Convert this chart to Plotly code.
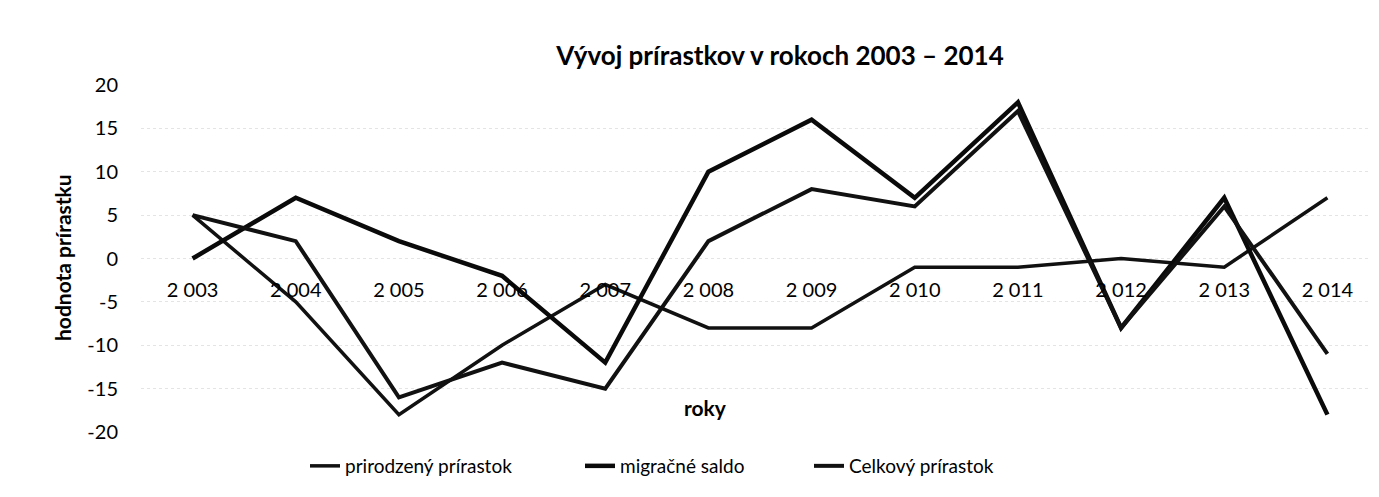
import plotly.graph_objects as go

years = ["2 003", "2 004", "2 005", "2 006", "2 007", "2 008",
         "2 009", "2 010", "2 011", "2 012", "2 013", "2 014"]
prirodzeny = [5, -5, -18, -10, -3, -8, -8, -1, -1, 0, -1, 7]
migracne = [0, 7, 2, -2, -12, 10, 16, 7, 18, -8, 7, -18]
celkovy = [5, 2, -16, -12, -15, 2, 8, 6, 17, -8, 6, -11]
y_ticks = [-20, -15, -10, -5, 0, 5, 10, 15, 20]
y_tick_labels = ["-20", "-15", "-10", "-5", "0", "5", "10", "15", "20"]

FONT = "Lato"
OFF = 8  # page body margin
W, H = 1379 - OFF, 497 - OFF
PX_L, PX_R, PX_T, PX_B = 141, 1379, 85, 432  # plot area in page pixels
L = PX_L - OFF
R = OFF + W - PX_R
T = PX_T - OFF
B = OFF + H - PX_B
PW = PX_R - PX_L
PH = PX_B - PX_T

def px_x(px):
    return (px - PX_L) / PW

def px_y(py):
    return (PX_B - py) / PH

fig = go.Figure()
fig.add_trace(go.Scatter(x=years, y=prirodzeny, mode="lines", name="prirodzený prírastok",
                         line=dict(color="#111111", width=3.5), legend="legend"))
fig.add_trace(go.Scatter(x=years, y=migracne, mode="lines", name="migračné saldo",
                         line=dict(color="#0a0a0a", width=4.5), legend="legend2"))
fig.add_trace(go.Scatter(x=years, y=celkovy, mode="lines", name="Celkový prírastok",
                         line=dict(color="#111111", width=4), legend="legend3"))

leg_font = dict(family=FONT, size=19, color="black")
def leg(px_text_start):
    return dict(orientation="h", x=px_x(px_text_start - 42), y=px_y(466),
                xanchor="left", yanchor="middle", font=leg_font,
                bgcolor="rgba(0,0,0,0)")

fig.update_layout(
    width=W, height=H,
    margin=dict(l=L, r=R, t=T, b=B, autoexpand=False),
    paper_bgcolor="white", plot_bgcolor="white",
    font=dict(family=FONT, color="black", size=19),
    title=dict(text="<b>Vývoj prírastkov v rokoch 2003 – 2014</b>",
               xref="container", yref="container",
               x=(780 - OFF) / W, y=1 - (56 - OFF) / H, xanchor="center", yanchor="middle",
               font=dict(family=FONT, size=26, color="black")),
    showlegend=True,
    legend=leg(347),
    legend2=leg(622),
    legend3=leg(851),
    xaxis=dict(type="category", range=[-0.5, len(years) - 0.5],
               anchor="free", position=0.5, showline=False, showgrid=False, zeroline=False,
               ticks="", ticklabelstandoff=17, automargin=False,
               tickfont=dict(family=FONT, size=20, color="black")),
    yaxis=dict(range=[-20, 20], tickvals=y_ticks, ticktext=y_tick_labels,
               showline=False, zeroline=False,
               showgrid=True, gridcolor="#e4e4e4", griddash="dot", gridwidth=1,
               ticks="", ticklabelstandoff=22, automargin=False,
               tickfont=dict(family=FONT, size=20, color="black")),
    annotations=[
        dict(text="<b>hodnota prírastku</b>", xref="paper", yref="paper",
             x=px_x(62), y=px_y(258), textangle=-90, showarrow=False,
             xanchor="center", yanchor="middle",
             font=dict(family=FONT, size=21, color="black")),
        dict(text="<b>roky</b>", xref="paper", yref="paper",
             x=px_x(705), y=px_y(407), showarrow=False,
             xanchor="center", yanchor="middle",
             font=dict(family=FONT, size=21, color="black")),
    ],
    shapes=[
        dict(type="line", xref="paper", yref="paper", x0=px_x(3), x1=px_x(3),
             y0=px_y(2), y1=px_y(495),
             line=dict(color="#d0d0d0", width=1, dash="dot")),
    ],
)

fig.write_html("out.html")
